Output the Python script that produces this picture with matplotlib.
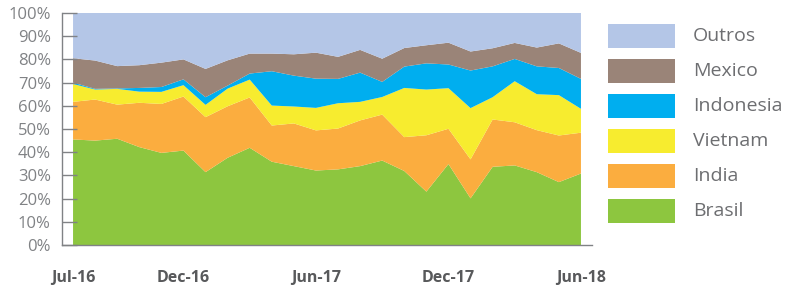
import numpy as np
import matplotlib.pyplot as plt
from matplotlib.patches import Rectangle

# monthly share by country (%), Jul-16 .. Jun-18
months = ['Jul-16', 'Aug-16', 'Sep-16', 'Oct-16', 'Nov-16', 'Dec-16',
          'Jan-17', 'Feb-17', 'Mar-17', 'Apr-17', 'May-17', 'Jun-17',
          'Jul-17', 'Aug-17', 'Sep-17', 'Oct-17', 'Nov-17', 'Dec-17',
          'Jan-18', 'Feb-18', 'Mar-18', 'Apr-18', 'May-18', 'Jun-18']
brasil = [45.5, 45.0, 45.8, 42.2, 39.7, 40.7, 31.4, 37.6, 41.9, 35.9, 34.0, 32.1,
          32.6, 34.0, 36.4, 31.9, 23.0, 34.9, 20.1, 33.7, 34.3, 31.4, 27.1, 30.8]
india = [16.2, 17.7, 14.7, 19.1, 21.1, 23.3, 23.7, 22.2, 21.7, 15.6, 18.4, 17.3,
         17.6, 19.7, 19.8, 14.6, 24.3, 15.2, 16.8, 20.4, 18.6, 18.1, 20.1, 17.6]
vietnam = [7.7, 4.3, 6.8, 4.8, 5.2, 4.9, 5.3, 7.6, 7.7, 8.6, 7.3, 9.7,
           10.9, 8.0, 7.6, 21.2, 19.7, 17.5, 22.1, 9.6, 17.7, 15.5, 17.4, 10.3]
indonesia = [0.6, 0.3, 0.2, 1.6, 2.1, 2.5, 3.3, 1.3, 2.6, 14.8, 13.3, 12.6,
             10.5, 12.6, 6.5, 9.2, 11.3, 10.2, 16.2, 13.3, 9.6, 12.0, 11.7, 12.9]
mexico = [10.5, 12.2, 9.6, 9.8, 10.5, 8.6, 12.2, 10.9, 8.6, 7.6, 9.2, 11.2,
          9.5, 9.8, 10.0, 8.0, 7.8, 9.4, 8.2, 7.8, 6.9, 8.1, 10.6, 11.2]
outros = list(100 - np.sum([brasil, india, vietnam, indonesia, mexico], axis=0))

labels = ['Brasil', 'India', 'Vietnam', 'Indonesia', 'Mexico', 'Outros']
colors = ['#8dc63f', '#fbad3f', '#f7ec2f', '#00aeef', '#9a8478', '#b4c6e7']
tick_idx = [0, 5, 11, 17, 23]

plt.rcParams['font.family'] = ['Open Sans', 'DejaVu Sans']

fig = plt.figure(figsize=(8, 2.89), dpi=100)
ax = fig.add_axes([62 / 800, 1 - 245 / 289, 530 / 800, 232 / 289])

x = np.arange(len(months))
ax.stackplot(x, brasil, india, vietnam, indonesia, mexico, outros,
             colors=colors, linewidth=0)

ax.set_xlim(-0.5, 23.5)
ax.set_ylim(0, 100)
ax.set_yticks(range(0, 101, 10))
ax.set_yticklabels([f'{v}%' for v in range(0, 101, 10)], color='#808285', fontsize=12)
ax.set_xticks(tick_idx)
ax.set_xticklabels([months[i] for i in tick_idx], color='#58595b',
                   fontsize=11.5, fontweight='bold')
ax.tick_params(axis='y', direction='in', length=11, width=1, color='#808285', pad=8)
ax.tick_params(axis='x', length=0, pad=18)
for s in ['top', 'right']:
    ax.spines[s].set_visible(False)
for s in ['left', 'bottom']:
    ax.spines[s].set_color('#808285')
    ax.spines[s].set_linewidth(1)

# legend, top to bottom
for k, (lab, col) in enumerate(zip(labels[::-1], colors[::-1])):
    yc = 36 + 35 * k
    fig.add_artist(Rectangle((608 / 800, 1 - (yc + 12) / 289), 67 / 800, 24 / 289,
                             transform=fig.transFigure, color=col, lw=0))
    fig.text(693 / 800, 1 - yc / 289, lab, ha='left', va='center',
             fontsize=14, color='#6d6e71')

fig.savefig('out.png', dpi=100)
